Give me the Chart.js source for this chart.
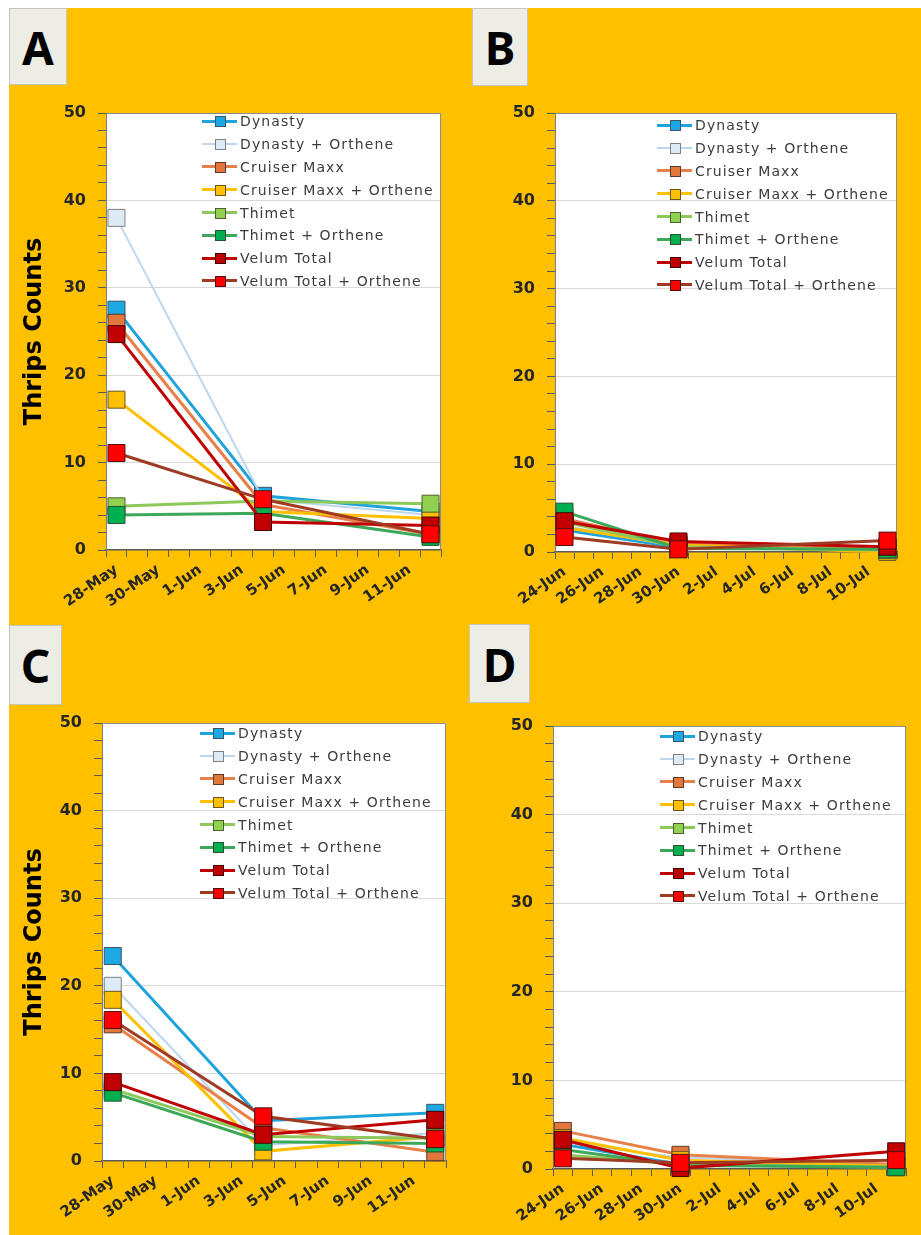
<!DOCTYPE html>
<html>
<head>
<meta charset="utf-8">
<script src="https://cdn.jsdelivr.net/npm/chart.js@4.4.1/dist/chart.umd.min.js"></script>
<style>
  body { margin: 0; width: 921px; height: 1235px; background: #fff; position: relative; overflow: hidden; font-family: "DejaVu Sans", sans-serif; }
  #bg { position: absolute; left: 9px; top: 8px; width: 912px; height: 1227px; background: #FFC000; }
  canvas { position: absolute; }
  .tag { position: absolute; background: #EDEDE6; border: 1px solid #c6c6bc; box-sizing: border-box; font: bold 46px "Noto Sans", sans-serif; color: #000;
         display: flex; align-items: center; justify-content: center; }
  .legend { position: absolute; font-size: 14px; letter-spacing: 1.1px; color: #3c3c3c; }
  .row { height: 22.8px; display: flex; align-items: center; white-space: nowrap; }
  .sym { position: relative; width: 35px; height: 20px; margin-right: 3px; flex: none; }
  .sym .ln { position: absolute; left: 0; right: 0; top: 50%; height: 3px; margin-top: -1.5px; }
  .sym .mk { position: absolute; left: 50%; top: 50%; width: 9px; height: 9px; margin: -5px 0 0 -5px; border: 1px solid #444; }
</style>
</head>
<body>
<div id="bg"></div>
<canvas id="chartA" width="460" height="520" style="left:0;top:100px"></canvas>
<canvas id="chartB" width="461" height="520" style="left:460px;top:100px"></canvas>
<canvas id="chartC" width="460" height="525" style="left:0;top:710px"></canvas>
<canvas id="chartD" width="461" height="525" style="left:460px;top:710px"></canvas>

<div class="tag" style="left:9px;top:8px;width:58px;height:77px">A</div>
<div class="tag" style="left:472px;top:8px;width:56px;height:78px">B</div>
<div class="tag" style="left:9px;top:625px;width:53px;height:80px">C</div>
<div class="tag" style="left:469px;top:624px;width:61px;height:79px">D</div>

<script>
'use strict';

// ---- data ----
const seriesNames = ['Dynasty', 'Dynasty + Orthene', 'Cruiser Maxx', 'Cruiser Maxx + Orthene',
                     'Thimet', 'Thimet + Orthene', 'Velum Total', 'Velum Total + Orthene'];

// axis days (one category per day)
const daysMayJun = ['28-May', '29-May', '30-May', '31-May', '1-Jun', '2-Jun', '3-Jun', '4-Jun',
                    '5-Jun', '6-Jun', '7-Jun', '8-Jun', '9-Jun', '10-Jun', '11-Jun', '12-Jun'];
const daysJunJul = ['24-Jun', '25-Jun', '26-Jun', '27-Jun', '28-Jun', '29-Jun', '30-Jun', '1-Jul', '2-Jul',
                    '3-Jul', '4-Jul', '5-Jul', '6-Jul', '7-Jul', '8-Jul', '9-Jul', '10-Jul', '11-Jul'];

// sampling dates
const samplesAC = ['28-May', '4-Jun', '12-Jun'];
const samplesBD = ['24-Jun', '30-Jun', '11-Jul'];

// thrips counts, one row per series (same order as seriesNames)
const valuesA = [
  [27.5, 6.2, 4.4],
  [38.0, 5.8, 4.0],
  [26.0, 5.2, 1.8],
  [17.2, 4.4, 3.6],
  [5.0, 5.6, 5.3],
  [4.0, 4.2, 1.5],
  [24.7, 3.2, 2.8],
  [11.1, 5.8, 1.8]
];
const valuesB = [
  [2.5, 0.5, 0.4],
  [3.0, 0.6, 0.6],
  [3.8, 0.9, 0.3],
  [2.8, 0.8, 0.0],
  [3.4, 0.6, 0.2],
  [4.6, 0.4, 0.3],
  [3.5, 1.2, 0.6],
  [1.7, 0.3, 1.3]
];
const valuesC = [
  [23.4, 4.6, 5.5],
  [20.0, 1.8, 3.2],
  [15.6, 3.8, 1.0],
  [18.4, 1.1, 2.8],
  [8.2, 2.8, 2.6],
  [7.8, 2.2, 2.0],
  [9.0, 3.0, 4.7],
  [16.1, 5.1, 2.5]
];
const valuesD = [
  [2.8, 0.5, 0.3],
  [3.0, 1.3, 0.5],
  [4.3, 1.6, 0.5],
  [3.5, 1.0, 0.3],
  [1.6, 0.5, 0.2],
  [2.2, 0.4, 0.2],
  [3.3, 0.1, 2.0],
  [1.2, 0.7, 1.0]
];

// ---- styles ----
const lineColors   = ['#1EA3DC', '#BDD7EE', '#E8804A', '#FFC000', '#8CC85A', '#3DA85A', '#C00000', '#9E3B22'];
const markerFills  = ['#1CA8E3', '#DDEBF7', '#E2773B', '#FFC000', '#92D050', '#00B050', '#C00000', '#FF0000'];
const markerEdges  = ['#3a5566', '#7F7F7F', '#5a3a2a', '#6a5420', '#4a6030', '#2a5030', '#400000', '#501010'];
const lineWidths   = [3, 2, 3, 3, 3, 3, 3, 3];

const tickFont = { family: 'DejaVu Sans', weight: 'bold', size: 16 };
const dateFont = { family: 'DejaVu Sans', weight: 'bold', size: 15 };

// white plot area with a thin gray frame
const plotFrame = {
  id: 'plotFrame',
  beforeDraw(chart) {
    const {ctx, chartArea: a} = chart;
    ctx.save();
    ctx.fillStyle = '#fff';
    ctx.fillRect(a.left, a.top, a.right - a.left, a.bottom - a.top);
    ctx.restore();
  },
  beforeDatasetsDraw(chart) {
    const {ctx, chartArea: a} = chart;
    ctx.save();
    ctx.strokeStyle = '#8c8c8c';
    ctx.lineWidth = 1;
    ctx.beginPath();
    ctx.moveTo(a.left, a.top + 0.5);
    ctx.lineTo(a.right - 0.5, a.top + 0.5);
    ctx.lineTo(a.right - 0.5, a.bottom);
    ctx.stroke();
    ctx.restore();
  }
};

function makePanel(id, days, samples, values, box, showTitle) {
  const datasets = seriesNames.map((name, i) => ({
    label: name,
    data: samples.map((d, j) => ({x: d, y: values[i][j]})),
    borderColor: lineColors[i],
    borderWidth: lineWidths[i],
    backgroundColor: markerFills[i],
    pointBackgroundColor: markerFills[i],
    pointBorderColor: markerEdges[i],
    pointBorderWidth: 1,
    pointStyle: 'rect',
    pointRadius: 12,
    tension: 0,
    clip: false,
    order: seriesNames.length - i  // last series on top
  }));

  return new Chart(document.getElementById(id), {
    type: 'line',
    data: { labels: days, datasets },
    plugins: [plotFrame],
    options: {
      responsive: false,
      animation: false,
      devicePixelRatio: 1,
      layout: { padding: { top: box.top, right: box.right, left: 0, bottom: 0 } },
      plugins: { legend: { display: false }, tooltip: { enabled: false } },
      scales: {
        x: {
          type: 'category',
          offset: true,
          afterFit: (s) => { s.height = box.xH; s.paddingLeft = 0; s.paddingRight = 0; },
          grid: { offset: true, drawOnChartArea: false, tickLength: 7, color: '#595959' },
          border: { color: '#595959', width: 1.5 },
          ticks: {
            autoSkip: false, minRotation: 35, maxRotation: 35, padding: 4,
            color: '#262626', font: dateFont,
            callback: function (v, idx) { return idx % 2 === 0 ? this.getLabelForValue(v) : ''; }
          }
        },
        y: {
          min: 0, max: 50,
          afterFit: (s) => { s.width = box.yW; s.paddingTop = 0; s.paddingBottom = 0; },
          grid: {
            color: (c) => (c.tick && c.tick.value % 10 === 0 && c.tick.value > 0 && c.tick.value < 50) ? '#d9d9d9' : 'rgba(0,0,0,0)',
            tickColor: '#595959', tickLength: 8
          },
          border: { color: '#7f7f7f', width: 1 },
          ticks: {
            stepSize: 2, autoSkip: false, padding: 12, color: '#262626', font: tickFont,
            callback: (v) => (v % 10 === 0 ? v : '')
          },
          title: {
            display: showTitle, text: 'Thrips Counts', color: '#000',
            font: { family: 'DejaVu Sans', weight: 'bold', size: 24 },
            padding: { top: 20, bottom: 0 }
          }
        }
      }
    }
  });
}

makePanel('chartA', daysMayJun, samplesAC, valuesA, { top: 11, right: 19, yW: 106, xH: 70 }, true);
makePanel('chartB', daysJunJul, samplesBD, valuesB, { top: 11, right: 24, yW: 95, xH: 68 }, false);
makePanel('chartC', daysMayJun, samplesAC, valuesC, { top: 13, right: 14, yW: 102, xH: 74 }, true);
makePanel('chartD', daysJunJul, samplesBD, valuesD, { top: 16, right: 15, yW: 93, xH: 66 }, false);

// legends drawn inside each plot area, Excel style
function makeLegend(left, top) {
  const box = document.createElement('div');
  box.className = 'legend';
  box.style.left = left + 'px';
  box.style.top = top + 'px';
  seriesNames.forEach((name, i) => {
    const row = document.createElement('div');
    row.className = 'row';
    const sym = document.createElement('span');
    sym.className = 'sym';
    const ln = document.createElement('span');
    ln.className = 'ln';
    ln.style.background = lineColors[i];
    ln.style.height = lineWidths[i] + 'px';
    const mk = document.createElement('span');
    mk.className = 'mk';
    mk.style.background = markerFills[i];
    mk.style.borderColor = markerEdges[i];
    sym.appendChild(ln);
    sym.appendChild(mk);
    const txt = document.createElement('span');
    txt.textContent = name;
    row.appendChild(sym);
    row.appendChild(txt);
    box.appendChild(row);
  });
  document.body.appendChild(box);
}

makeLegend(202, 110);
makeLegend(657, 114);
makeLegend(200, 722);
makeLegend(660, 725);
</script>
</body>
</html>
